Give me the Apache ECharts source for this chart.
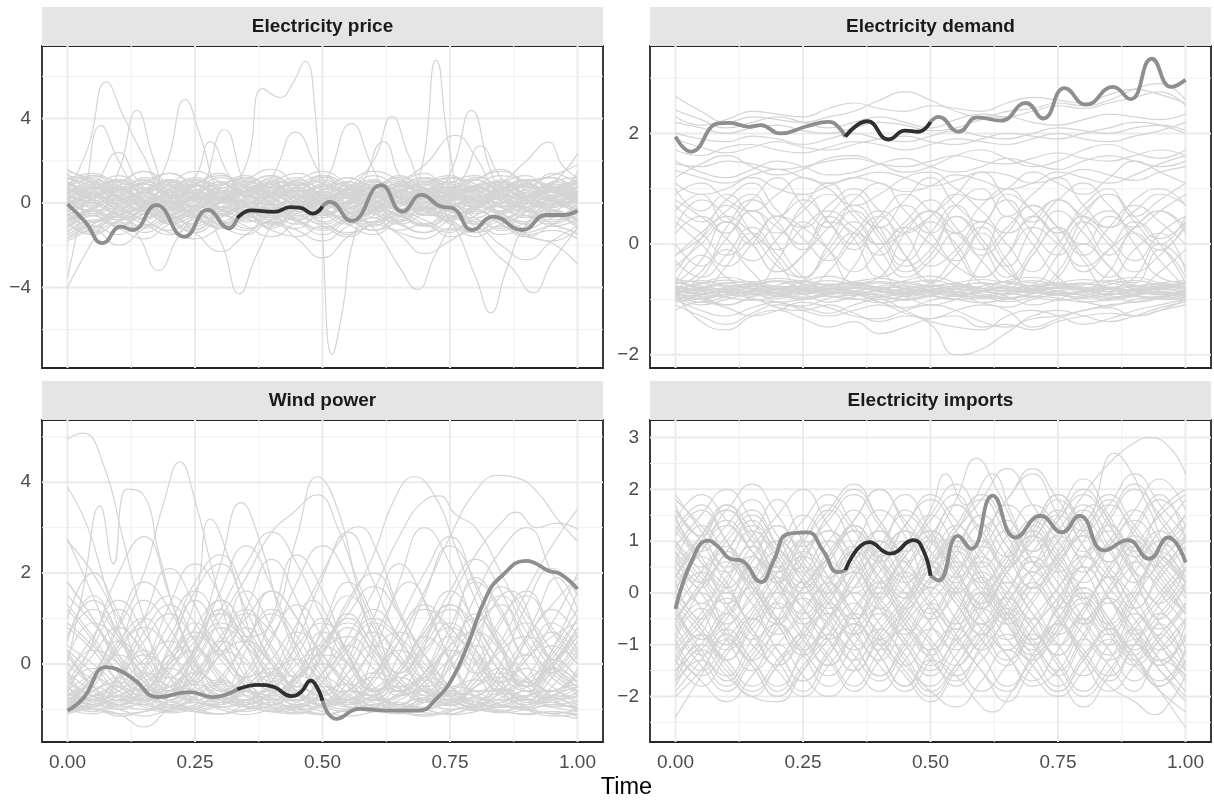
<!DOCTYPE html>
<html>
<head>
<meta charset="utf-8">
<title>Functional time series by variable</title>
<script src="https://cdn.jsdelivr.net/npm/echarts@6/dist/echarts.min.js"></script>
<style>
  html, body { margin: 0; padding: 0; background: #ffffff; }
  #chart { width: 1214px; height: 804px; }
</style>
</head>
<body>
<div id="chart"></div>
<script>
// ---------- data ----------
const panelTitles = ['Electricity price', 'Electricity demand', 'Wind power', 'Electricity imports'];
const axisTitle = 'Time';

const xTicks = [0, 0.25, 0.5, 0.75, 1];
const xMinorTicks = [0.125, 0.375, 0.625, 0.875];
const xLimits = [-0.05, 1.05];

const priceTicks = [-4, 0, 4];
const priceMinor = [-6, -2, 2, 6];
const priceLimits = [-7.82, 7.44];
const demandTicks = [-2, 0, 2];
const demandMinor = [-1, 1, 3];
const demandLimits = [-2.24, 3.58];
const windTicks = [0, 2, 4];
const windMinor = [-1, 1, 3, 5];
const windLimits = [-1.72, 5.37];
const importsTicks = [-2, -1, 0, 1, 2, 3];
const importsMinor = [-2.5, -1.5, -0.5, 0.5, 1.5, 2.5];
const importsLimits = [-2.88, 3.34];

// sampling times shared by the regular curves
const T_GRID = [0, 0.05, 0.1, 0.15, 0.2, 0.25, 0.3, 0.35, 0.4, 0.45, 0.5, 0.55, 0.6, 0.65, 0.7, 0.75, 0.8, 0.85, 0.9, 0.95, 1];

// highlighted curve of each variable: [time, value]
const priceFocus = [[0,-0.05],[0.035,-0.9],[0.069,-1.9],[0.105,-1.12],[0.128,-1.28],[0.174,-0.1],[0.229,-1.6],[0.275,-0.33],[0.317,-1.2],[0.333,-0.72],[0.36,-0.35],[0.405,-0.42],[0.437,-0.2],[0.455,-0.22],[0.481,-0.5],[0.5,-0.17],[0.514,0.05],[0.557,-0.85],[0.615,0.85],[0.657,-0.41],[0.694,0.38],[0.733,-0.17],[0.755,-0.24],[0.794,-1.28],[0.834,-0.65],[0.892,-1.28],[0.939,-0.57],[0.971,-0.57],[1,-0.36]];
const demandFocus = [[0,1.94],[0.03,1.67],[0.084,2.18],[0.106,2.19],[0.144,2.12],[0.167,2.15],[0.205,2.0],[0.258,2.13],[0.3,2.21],[0.319,2.12],[0.333,1.94],[0.376,2.22],[0.418,1.89],[0.45,2.05],[0.476,2.03],[0.5,2.21],[0.516,2.3],[0.555,2.03],[0.592,2.29],[0.638,2.23],[0.687,2.55],[0.721,2.27],[0.763,2.82],[0.805,2.52],[0.858,2.84],[0.892,2.62],[0.934,3.35],[0.972,2.84],[1,2.97]];
const windFocus = [[0,-1.03],[0.03,-0.77],[0.076,-0.07],[0.095,-0.11],[0.129,-0.33],[0.178,-0.73],[0.239,-0.62],[0.284,-0.73],[0.333,-0.56],[0.375,-0.46],[0.405,-0.51],[0.439,-0.71],[0.458,-0.62],[0.477,-0.37],[0.489,-0.51],[0.5,-0.81],[0.527,-1.21],[0.572,-0.99],[0.625,-1.03],[0.689,-1.03],[0.723,-0.77],[0.754,-0.33],[0.784,0.4],[0.822,1.5],[0.852,1.94],[0.898,2.27],[0.913,2.24],[0.943,2.05],[0.966,1.98],[1,1.65]];
const importsFocus = [[0,-0.31],[0.032,0.62],[0.064,1.01],[0.085,0.88],[0.107,0.66],[0.13,0.62],[0.168,0.21],[0.191,0.59],[0.221,1.14],[0.259,1.17],[0.289,0.82],[0.319,0.4],[0.333,0.44],[0.38,0.98],[0.421,0.76],[0.467,1.02],[0.486,0.82],[0.5,0.33],[0.516,0.24],[0.554,1.1],[0.58,0.85],[0.622,1.88],[0.667,1.07],[0.716,1.49],[0.758,1.17],[0.792,1.49],[0.841,0.82],[0.887,1.02],[0.928,0.66],[0.966,1.07],[1,0.59]];

// window of the highlighted stretch
const focusWindow = [0.333, 0.5];

// regular curves, one value per T_GRID entry
const priceBand = [
  [0.8,0.4,1.1,0.6,-0.2,0.5,1.2,0.7,0.1,0.9,0.4,-0.3,0.6,1.1,0.5,0.8,0.2,0.9,1.3,0.6,1.0],
  [0.2,-0.5,0.3,0.9,0.4,-0.4,0.1,0.8,0.3,-0.2,0.6,0.9,0.1,-0.5,0.4,0.7,-0.1,0.3,0.8,0.2,-0.3],
  [-0.4,0.3,-0.2,-0.8,0.1,0.6,-0.3,-0.6,0.4,0.2,-0.5,0.1,0.7,0.3,-0.4,0.2,0.6,-0.2,-0.6,0.3,0.5],
  [1.3,1.0,0.5,1.2,0.8,0.3,0.9,1.1,0.4,0.6,1.3,0.8,0.2,0.7,1.2,0.9,0.5,1.1,0.7,1.4,0.9],
  [-1.2,-0.6,-1.1,-0.4,-0.9,-1.4,-0.7,-0.2,-0.9,-1.2,-0.5,-0.8,-1.3,-0.6,-0.3,-1.0,-1.4,-0.7,-1.0,-0.5,-1.1],
  [0.5,1.0,0.3,-0.1,0.7,1.1,0.6,0.0,0.5,1.0,0.2,-0.2,0.4,0.9,0.6,0.1,0.7,1.0,0.3,-0.1,0.6],
  [-0.8,-0.2,0.4,-0.3,-0.9,-0.2,0.3,-0.4,-1.0,-0.3,0.2,-0.5,-0.1,0.5,-0.2,-0.8,-0.3,0.3,-0.4,-0.9,-0.2],
  [0.0,0.6,1.3,0.7,0.2,0.9,1.4,0.5,0.8,1.2,0.3,0.7,1.1,0.4,0.9,1.3,0.6,0.2,0.9,1.2,0.4],
  [1.6,0.9,0.2,0.6,1.1,0.4,-0.2,0.5,0.9,0.2,0.6,1.2,0.5,0.0,0.7,0.3,-0.2,0.6,0.9,0.3,1.5],
  [-1.6,-1.0,-0.5,-1.2,-0.7,-0.1,-0.8,-1.3,-0.6,-0.9,-1.5,-0.8,-0.3,-1.0,-1.4,-0.6,-0.9,-1.5,-1.1,-0.6,-1.2],
  [0.3,0.1,0.8,1.5,0.9,0.2,0.5,1.1,1.6,0.8,0.1,0.6,1.3,0.7,0.0,0.5,1.2,0.8,0.3,0.9,0.7],
  [-0.3,-0.9,-0.4,0.2,-0.5,-1.1,-0.4,0.1,-0.3,-0.8,-0.2,0.3,-0.4,-1.0,-0.5,-0.1,-0.7,-1.2,-0.4,0.0,-0.6],
  [0.9,0.5,-0.1,0.4,1.0,0.6,0.9,0.2,-0.3,0.4,0.8,0.3,-0.2,0.5,1.0,0.4,0.8,0.1,-0.2,0.5,0.2],
  [-0.6,0.2,0.7,0.1,-0.4,0.3,0.9,0.4,-0.1,0.5,1.0,0.2,-0.4,0.1,0.6,0.0,-0.5,0.2,0.8,0.3,-0.3],
  [1.1,1.4,0.8,0.3,0.9,1.5,1.0,0.5,1.2,0.8,0.4,1.0,1.5,1.1,0.6,1.2,0.9,0.4,1.0,1.3,1.8],
  [-1.0,-1.5,-0.8,-0.3,-0.9,-1.3,-0.6,-1.1,-1.6,-0.9,-0.4,-1.0,-1.5,-0.7,-0.2,-0.8,-1.3,-0.9,-1.5,-1.8,-1.2],
  [0.4,-0.2,-0.7,0.0,0.6,0.1,-0.5,0.2,0.7,0.0,-0.6,-0.1,0.5,0.0,-0.4,0.3,0.8,0.2,-0.3,0.4,0.1],
  [0.1,0.8,0.3,-0.4,0.2,0.8,0.2,-0.5,0.1,0.6,0.0,0.7,0.2,-0.3,0.4,-0.2,0.3,0.9,0.4,-0.2,0.3],
  [-1.4,-0.8,-1.2,-1.7,-1.0,-0.6,-1.1,-1.5,-0.9,-1.3,-1.8,-1.1,-0.7,-1.3,-1.0,-1.6,-1.2,-0.8,-1.4,-1.1,-1.5],
  [0.6,0.2,0.9,0.4,-0.3,0.3,0.0,0.6,1.1,0.5,-0.1,0.4,0.9,0.3,0.8,1.2,0.5,0.0,0.6,0.2,0.8],
  [1.4,0.7,1.0,1.5,0.6,0.2,0.8,1.3,0.7,1.1,1.5,0.9,0.3,0.9,1.4,0.7,1.1,1.6,0.8,0.5,1.1],
  [-0.2,0.4,-0.1,-0.7,-0.2,0.3,-0.4,0.1,0.5,-0.2,-0.7,0.0,0.4,-0.3,0.2,-0.6,-0.1,0.4,-0.2,-0.7,0.0],
  [0.7,1.2,0.6,0.9,1.4,0.7,0.3,1.0,0.5,0.0,0.6,1.2,0.8,1.3,0.6,0.2,0.8,0.4,1.1,0.8,0.3],
  [-0.9,-0.4,-1.0,-0.5,0.0,-0.6,-1.1,-0.5,-0.2,-0.8,-0.3,-0.9,-0.4,0.1,-0.6,-0.3,-1.0,-0.5,0.0,-0.4,-0.8],
  [0.2,0.7,0.1,0.5,-0.1,0.4,1.0,0.3,0.7,0.2,0.8,0.4,-0.2,0.3,0.0,0.6,0.2,0.7,0.1,0.6,0.2],
  [-1.8,-1.2,-0.6,-1.0,-1.5,-0.9,-0.5,-1.2,-0.8,-0.3,-0.9,-1.4,-1.0,-0.6,-1.1,-0.7,-0.4,-1.0,-1.6,-1.0,-0.5],
  [1.0,0.4,0.7,0.1,0.5,0.9,0.2,0.6,1.0,0.3,0.9,0.5,0.1,0.6,0.2,0.9,1.3,0.7,0.4,1.0,1.2],
  [-0.5,-1.1,-0.6,-0.1,-0.7,-0.3,0.2,-0.4,-0.9,-0.5,0.0,-0.6,-1.1,-0.4,-0.8,-1.3,-0.6,-0.1,-0.6,-1.0,-0.4],
  [0.5,0.0,0.6,1.1,0.4,0.8,0.3,-0.2,0.4,0.9,0.4,0.0,0.7,1.0,0.3,0.6,0.0,0.5,1.1,0.6,0.0],
  [-0.1,0.5,1.1,0.5,0.9,0.2,-0.3,0.3,0.8,0.3,-0.1,0.5,0.2,0.8,0.3,-0.2,0.4,0.8,0.2,0.7,1.0],
  [1.2,0.6,0.0,0.5,0.0,-0.5,0.1,0.7,0.2,-0.3,0.3,0.8,0.4,-0.1,0.5,0.1,0.7,0.3,-0.2,0.2,0.8],
  [-0.7,-1.3,-0.9,-1.4,-0.8,-0.4,-1.0,-0.6,-1.2,-0.7,-1.1,-1.6,-0.9,-0.5,-1.0,-1.4,-0.8,-1.3,-0.9,-0.4,-0.9],
  [0.5,0.9,0.2,-0.3,0.4,0.1,0.8,1.2,0.4,0.6,-0.1,0.3,1.0,0.5,-0.2,0.1,0.7,0.4,0.9,0.3,0.6],
  [-0.2,-0.6,0.1,0.6,1.0,0.3,-0.4,-0.1,0.5,0.2,0.9,0.4,-0.3,-0.8,0.0,0.5,0.1,-0.5,0.2,0.7,1.1],
  [1.0,0.5,0.8,0.1,-0.4,0.2,0.5,-0.1,0.3,0.8,1.3,0.6,0.9,0.2,0.5,1.0,0.4,-0.2,0.3,0.1,0.6],
  [-1.1,-0.5,-0.8,-0.2,0.3,-0.3,-0.9,-0.4,-0.7,-0.1,-0.5,-1.0,-0.6,0.0,-0.4,-0.8,-0.2,-0.6,-1.2,-0.7,-0.3],
  [0.3,0.0,-0.5,-0.1,0.7,0.4,0.1,0.6,0.0,-0.6,-0.2,0.5,0.2,0.8,0.4,-0.3,-0.7,0.0,0.4,-0.1,0.3],
  [0.9,1.3,1.0,0.6,1.1,0.7,0.2,0.6,1.0,1.4,0.9,0.5,0.8,1.2,0.7,0.3,0.8,1.3,1.0,0.6,0.9],
  [-0.4,0.0,-0.6,-1.1,-0.6,-0.2,0.3,-0.2,-0.7,-0.3,0.2,-0.4,-0.9,-0.5,0.1,-0.4,-0.9,-0.4,0.1,-0.3,-0.7],
  [0.0,0.3,0.7,0.2,0.5,1.0,0.4,0.0,0.4,-0.1,0.3,0.8,0.3,0.6,0.1,-0.4,0.2,0.6,0.3,0.9,0.4],
  [0.6,0.1,-0.3,0.3,0.0,-0.6,-0.2,0.4,0.1,0.6,0.2,-0.4,0.0,0.5,0.9,0.4,0.0,0.6,0.2,-0.2,0.2],
  [-0.9,-1.4,-0.9,-0.5,-1.0,-0.6,-0.2,-0.7,-1.1,-0.6,-1.0,-0.5,-0.1,-0.6,-1.1,-0.7,-0.3,-0.8,-0.4,-1.0,-1.4],
  [1.2,0.8,0.4,0.9,0.5,0.9,1.3,0.8,0.3,0.7,0.2,0.6,1.1,0.6,1.0,0.5,0.1,0.6,1.1,0.7,0.4],
  [-0.3,0.2,0.6,0.0,-0.5,-0.1,-0.6,-0.1,0.4,0.0,0.5,0.0,-0.5,0.1,-0.3,0.3,0.7,0.1,-0.4,0.2,-0.2],
  [0.4,0.8,0.4,1.0,0.6,0.1,0.5,0.9,0.5,1.1,0.6,0.2,0.7,0.3,-0.2,0.4,0.8,0.3,0.7,1.2,0.5],
  [-0.6,-0.1,-0.5,-0.2,-0.8,-1.2,-0.6,-0.2,-0.6,-1.0,-0.4,0.0,-0.5,-0.9,-0.3,-0.7,-0.2,0.2,-0.3,-0.8,-0.5],
  [0.1,-0.4,0.2,0.7,0.3,-0.2,0.2,0.6,0.0,-0.5,0.1,-0.3,0.4,0.9,0.4,-0.1,0.3,-0.2,-0.7,-0.1,0.4],
  [1.5,1.1,0.6,1.0,1.4,0.9,0.5,0.9,1.3,0.8,1.2,0.7,0.3,0.8,1.2,0.7,1.1,1.5,1.0,0.6,1.3],
  [-1.3,-0.9,-0.4,-0.8,-1.3,-0.8,-1.2,-0.7,-0.3,-0.8,-1.2,-0.8,-1.3,-0.9,-0.5,-0.9,-1.4,-1.0,-0.6,-1.1,-0.8],
  [0.7,0.3,0.6,0.1,0.4,0.8,0.3,-0.2,0.2,0.7,0.2,0.6,0.1,-0.3,0.3,0.7,0.2,0.5,0.0,0.4,0.7],
  [-0.1,0.4,0.0,0.5,0.9,0.5,0.0,0.4,-0.1,0.3,0.8,0.3,0.7,0.2,0.6,1.0,0.5,0.0,0.5,0.1,-0.3],
  [0.2,-0.3,-0.8,-0.3,0.1,-0.4,0.1,0.5,0.0,-0.4,0.0,0.4,-0.1,-0.6,-0.2,0.3,-0.2,-0.7,-0.2,0.3,0.0],
  [-0.5,-0.9,-0.4,0.1,-0.3,0.2,-0.2,-0.7,-0.3,0.1,-0.4,-0.8,-0.3,0.2,-0.2,-0.6,-1.0,-0.5,0.0,-0.5,-1.0],
  [0.8,1.1,0.5,0.1,0.6,1.1,0.7,1.2,0.7,0.2,0.6,1.0,0.4,0.8,1.2,0.6,0.2,0.7,1.1,0.6,0.2],
  [-0.7,-0.3,0.2,-0.2,-0.6,-1.0,-0.5,-0.9,-0.4,0.1,-0.3,-0.7,-0.2,-0.6,-1.0,-0.5,-0.1,-0.5,-0.9,-0.4,0.1],
  [0.3,0.7,1.1,0.6,0.2,0.5,0.1,0.5,0.9,0.4,0.0,0.4,0.8,0.3,0.7,0.2,0.6,1.0,0.4,0.8,0.5],
  [-1.5,-1.1,-1.5,-1.0,-1.4,-1.7,-1.2,-0.8,-1.3,-1.6,-1.1,-1.5,-1.0,-1.4,-1.7,-1.2,-1.6,-1.1,-1.5,-1.3,-1.7]
];

// curves with sharp excursions: [time, value]
const priceSpikes = [
  [[0,0.6],[0.04,2.6],[0.076,5.74],[0.11,4.1],[0.15,2.2],[0.2,0.3],[0.25,0.9],[0.3,0.2],[0.35,0.8],[0.4,1.3],[0.45,0.5],[0.5,-0.2],[0.55,0.4],[0.6,1.0],[0.65,0.3],[0.7,-0.3],[0.75,0.5],[0.8,1.1],[0.85,0.4],[0.9,0.8],[0.95,0.1],[1,0.5]],
  [[0,-3.55],[0.033,0.2],[0.066,3.68],[0.1,2.0],[0.14,0.4],[0.18,-0.6],[0.22,0.2],[0.27,1.0],[0.32,0.2],[0.37,-0.5],[0.42,0.3],[0.47,0.9],[0.52,0.1],[0.57,-0.6],[0.62,0.0],[0.67,0.7],[0.72,0.1],[0.77,-0.5],[0.82,0.2],[0.87,0.8],[0.93,0.2],[1,-0.4]],
  [[0,-4.0],[0.04,-2.2],[0.08,-0.7],[0.12,0.2],[0.16,-0.5],[0.2,0.4],[0.25,-0.3],[0.3,0.6],[0.35,0.0],[0.4,-0.6],[0.45,0.2],[0.5,0.7],[0.55,-0.1],[0.6,-0.7],[0.65,0.1],[0.7,0.6],[0.75,-0.2],[0.8,0.4],[0.85,-0.4],[0.9,0.3],[0.95,0.9],[1,0.2]],
  [[0,0.3],[0.05,-0.5],[0.1,1.5],[0.136,4.39],[0.17,2.0],[0.21,-0.3],[0.26,0.5],[0.31,-0.4],[0.36,0.4],[0.41,1.0],[0.46,0.2],[0.51,-0.5],[0.56,0.3],[0.61,0.8],[0.66,0.0],[0.71,-0.6],[0.76,0.2],[0.81,0.9],[0.86,0.2],[0.91,-0.4],[0.96,0.3],[1,0.6]],
  [[0,-0.2],[0.05,0.5],[0.1,-0.3],[0.15,0.6],[0.19,1.6],[0.231,4.9],[0.26,3.2],[0.3,0.4],[0.35,-0.4],[0.4,0.5],[0.45,1.0],[0.5,0.2],[0.55,-0.5],[0.6,0.2],[0.65,0.9],[0.7,0.3],[0.75,-0.4],[0.8,0.3],[0.85,1.0],[0.9,0.4],[0.95,-0.2],[1,0.3]],
  [[0,1.0],[0.05,0.4],[0.1,-0.2],[0.15,0.5],[0.2,1.1],[0.25,0.6],[0.307,3.47],[0.35,0.8],[0.4,-0.5],[0.45,0.1],[0.5,0.8],[0.55,0.3],[0.6,-0.4],[0.65,0.3],[0.7,1.0],[0.75,0.5],[0.8,-0.2],[0.85,0.5],[0.9,0.9],[0.95,0.2],[1,-0.5]],
  [[0,0.2],[0.05,-0.4],[0.1,0.3],[0.15,0.9],[0.2,0.2],[0.25,-0.5],[0.3,0.1],[0.35,1.8],[0.383,5.42],[0.417,5.0],[0.44,5.6],[0.466,6.73],[0.485,4.5],[0.5,-1.5],[0.519,-7.18],[0.54,-5.0],[0.56,-1.8],[0.6,0.1],[0.65,-0.6],[0.7,0.3],[0.75,0.9],[0.8,0.2],[0.85,-0.5],[0.9,0.3],[0.95,0.8],[1,0.1]],
  [[0,-0.6],[0.05,0.2],[0.1,0.8],[0.15,0.1],[0.2,-0.6],[0.25,0.1],[0.3,0.7],[0.35,0.0],[0.4,1.2],[0.447,3.36],[0.49,1.6],[0.53,0.0],[0.58,-0.6],[0.63,0.2],[0.68,0.8],[0.73,0.1],[0.78,-0.5],[0.83,0.3],[0.88,0.9],[0.93,0.3],[1,-0.3]],
  [[0,0.9],[0.05,1.3],[0.1,0.6],[0.15,0.0],[0.2,0.6],[0.25,1.2],[0.3,0.5],[0.35,-0.1],[0.4,0.6],[0.45,0.2],[0.5,0.8],[0.557,3.76],[0.6,1.6],[0.64,0.2],[0.69,0.9],[0.74,0.4],[0.79,-0.3],[0.84,0.5],[0.89,1.0],[0.94,0.5],[1,1.0]],
  [[0,-0.3],[0.05,-0.9],[0.1,-0.2],[0.15,0.5],[0.2,-0.1],[0.25,-0.7],[0.3,0.0],[0.35,0.6],[0.4,-0.1],[0.45,-0.6],[0.5,0.1],[0.55,0.7],[0.6,2.0],[0.636,4.1],[0.67,2.2],[0.71,0.4],[0.76,1.2],[0.81,0.5],[0.86,-0.2],[0.91,0.4],[0.96,1.0],[1,0.4]],
  [[0,0.5],[0.05,0.0],[0.1,0.6],[0.15,1.1],[0.2,0.4],[0.25,-0.2],[0.3,0.5],[0.35,1.0],[0.4,0.3],[0.45,-0.3],[0.5,0.4],[0.55,1.0],[0.6,0.4],[0.65,0.0],[0.69,1.2],[0.723,6.77],[0.75,2.4],[0.78,0.3],[0.83,1.0],[0.88,0.4],[0.93,-0.2],[1,0.6]],
  [[0,-0.9],[0.05,-0.3],[0.1,0.4],[0.15,-0.2],[0.2,-0.8],[0.25,-0.1],[0.3,0.5],[0.35,-0.2],[0.4,-0.8],[0.45,-0.2],[0.5,0.4],[0.55,-0.3],[0.6,0.3],[0.65,0.9],[0.7,0.3],[0.75,1.4],[0.792,4.39],[0.83,1.5],[0.87,-0.4],[0.92,0.3],[0.96,1.0],[1,0.2]],
  [[0,0.1],[0.05,0.7],[0.1,0.2],[0.15,-0.4],[0.2,0.3],[0.25,0.9],[0.3,0.3],[0.35,-0.3],[0.4,0.4],[0.45,0.9],[0.5,0.3],[0.55,-0.2],[0.6,0.5],[0.65,1.0],[0.7,1.8],[0.761,3.2],[0.8,2.2],[0.84,0.6],[0.89,-0.1],[0.94,0.5],[1,0.9]],
  [[0,0.0],[0.05,0.6],[0.1,1.0],[0.15,0.4],[0.2,-0.2],[0.25,0.4],[0.3,1.0],[0.35,0.5],[0.4,-0.1],[0.45,0.5],[0.5,1.1],[0.55,0.5],[0.6,0.0],[0.65,0.6],[0.7,1.1],[0.75,0.6],[0.8,0.1],[0.85,0.9],[0.9,2.0],[0.943,2.88],[0.97,1.8],[1,1.2]],
  [[0,-0.8],[0.05,-0.2],[0.1,0.3],[0.15,-0.3],[0.2,-0.9],[0.25,-0.4],[0.3,0.2],[0.35,-0.5],[0.4,-1.0],[0.45,-0.3],[0.5,0.3],[0.55,-0.4],[0.6,-0.9],[0.65,-0.2],[0.7,0.2],[0.75,-0.8],[0.8,-3.5],[0.83,-5.2],[0.86,-3.2],[0.9,-1.0],[0.95,-0.3],[1,-0.9]],
  [[0,0.4],[0.05,0.9],[0.1,0.3],[0.15,-0.4],[0.2,0.2],[0.25,0.8],[0.3,0.2],[0.35,-0.5],[0.4,0.0],[0.45,0.6],[0.5,0.0],[0.55,-0.6],[0.6,-1.2],[0.65,-3.0],[0.686,-4.1],[0.72,-2.5],[0.76,-0.8],[0.8,0.1],[0.85,-0.4],[0.9,0.3],[0.95,-0.2],[1,0.4]],
  [[0,-0.5],[0.05,-1.2],[0.1,-0.6],[0.14,-1.6],[0.178,-3.2],[0.22,-1.5],[0.26,-0.6],[0.3,-1.8],[0.337,-4.3],[0.37,-2.5],[0.41,-0.8],[0.45,-0.2],[0.5,-0.9],[0.55,-0.3],[0.6,0.3],[0.65,-0.4],[0.7,-1.0],[0.75,-0.3],[0.8,0.2],[0.85,-0.5],[0.9,-1.0],[0.95,-0.4],[1,-0.8]],
  [[0,0.7],[0.05,0.2],[0.1,-0.4],[0.15,0.3],[0.2,0.8],[0.25,0.1],[0.3,-0.5],[0.35,0.2],[0.4,0.6],[0.45,0.0],[0.5,-0.6],[0.55,0.1],[0.6,0.7],[0.65,0.2],[0.7,-0.5],[0.75,0.0],[0.8,-1.2],[0.84,-2.4],[0.871,-3.06],[0.913,-4.25],[0.95,-2.8],[1,-1.2]],
  [[0,-0.2],[0.05,0.4],[0.1,-0.1],[0.15,-0.7],[0.2,0.0],[0.25,0.5],[0.3,-0.2],[0.35,0.3],[0.4,0.9],[0.45,0.2],[0.5,-0.3],[0.55,0.4],[0.6,1.0],[0.65,0.5],[0.7,-0.1],[0.75,0.6],[0.8,1.1],[0.85,0.5],[0.9,0.2],[0.95,0.9],[1,2.33]],
  [[0,-1.2],[0.05,-0.6],[0.1,-1.1],[0.15,-0.5],[0.2,0.0],[0.25,-0.7],[0.3,-1.2],[0.35,-0.6],[0.4,-0.1],[0.45,-0.8],[0.5,-1.3],[0.55,-0.7],[0.6,-0.2],[0.65,-0.9],[0.7,-1.4],[0.75,-0.8],[0.8,-0.3],[0.85,-1.0],[0.9,-1.6],[0.95,-1.9],[1,-2.9]],
  [[0,0.2],[0.05,0.8],[0.1,2.4],[0.14,1.0],[0.2,0.0],[0.25,1.2],[0.28,2.9],[0.32,1.2],[0.37,0.2],[0.42,1.0],[0.47,0.4],[0.52,-0.2],[0.57,0.6],[0.62,2.9],[0.66,1.0],[0.72,0.3],[0.77,1.0],[0.81,2.7],[0.85,1.2],[0.9,0.2],[0.95,0.7],[1,-0.2]],
  [[0,-1.7],[0.05,-1.3],[0.1,-2.0],[0.15,-1.2],[0.2,-0.6],[0.25,-1.4],[0.3,-2.3],[0.35,-1.5],[0.4,-0.9],[0.45,-1.7],[0.5,-2.6],[0.55,-1.6],[0.6,-0.9],[0.65,-1.5],[0.7,-2.4],[0.75,-1.8],[0.8,-1.2],[0.85,-2.0],[0.9,-2.7],[0.95,-1.8],[1,-1.1]]
];

const demandBand = [
  [-0.85,-0.9,-0.8,-0.75,-0.85,-0.9,-0.82,-0.78,-0.85,-0.92,-0.84,-0.8,-0.86,-0.9,-0.82,-0.78,-0.84,-0.9,-0.86,-0.8,-0.85],
  [-0.75,-0.82,-0.7,-0.68,-0.78,-0.84,-0.74,-0.7,-0.78,-0.85,-0.76,-0.72,-0.8,-0.84,-0.74,-0.7,-0.78,-0.82,-0.76,-0.72,-0.74],
  [-0.95,-1.0,-0.9,-0.86,-0.94,-0.98,-0.9,-0.88,-0.94,-1.0,-0.92,-0.88,-0.95,-0.99,-0.9,-0.86,-0.93,-0.98,-0.92,-0.88,-0.95],
  [-0.9,-0.78,-0.7,-0.82,-0.9,-0.8,-0.72,-0.85,-0.92,-0.8,-0.74,-0.86,-0.93,-0.82,-0.75,-0.86,-0.92,-0.8,-0.74,-0.85,-0.9],
  [-0.68,-0.8,-0.88,-0.76,-0.68,-0.8,-0.88,-0.77,-0.7,-0.82,-0.9,-0.78,-0.7,-0.82,-0.88,-0.76,-0.7,-0.82,-0.9,-0.78,-0.72],
  [-1.0,-0.92,-0.84,-0.9,-0.98,-0.9,-0.82,-0.9,-1.0,-0.94,-0.85,-0.9,-0.98,-0.92,-0.84,-0.9,-0.98,-0.92,-0.85,-0.9,-0.97],
  [-0.8,-0.72,-0.65,-0.74,-0.82,-0.75,-0.66,-0.74,-0.82,-0.72,-0.65,-0.75,-0.83,-0.74,-0.66,-0.74,-0.82,-0.73,-0.66,-0.74,-0.8],
  [-0.88,-0.96,-0.86,-0.8,-0.88,-0.96,-0.88,-0.8,-0.86,-0.95,-0.88,-0.82,-0.9,-0.97,-0.88,-0.8,-0.88,-0.96,-0.9,-0.82,-0.88],
  [-0.72,-0.66,-0.76,-0.84,-0.74,-0.66,-0.76,-0.84,-0.76,-0.68,-0.78,-0.86,-0.76,-0.68,-0.76,-0.84,-0.74,-0.66,-0.74,-0.82,-0.7],
  [-0.92,-1.05,-0.95,-0.85,-0.9,-1.0,-0.92,-0.84,-0.92,-1.02,-0.94,-0.86,-0.94,-1.04,-0.96,-0.86,-0.92,-1.02,-0.94,-0.86,-0.92],
  [-0.95,-1.1,-1.0,-0.9,-1.05,-1.12,-0.98,-0.92,-1.05,-1.15,-1.02,-0.94,-1.06,-1.14,-1.0,-0.92,-1.04,-1.12,-1.0,-0.95,-1.0],
  [-0.82,-0.7,-0.6,-0.7,-0.8,-0.68,-0.58,-0.7,-0.8,-0.66,-0.58,-0.7,-0.8,-0.66,-0.6,-0.72,-0.8,-0.68,-0.6,-0.7,-0.78],
  [-0.9,-1.4,-1.55,-1.3,-1.2,-1.35,-1.5,-1.4,-1.62,-1.5,-1.35,-1.3,-1.5,-1.45,-1.55,-1.4,-1.3,-1.25,-1.3,-1.2,-1.0],
  [-1.0,-1.2,-1.3,-1.15,-1.05,-1.2,-1.3,-1.2,-1.1,-1.25,-1.4,-1.5,-1.55,-1.3,-1.2,-1.3,-1.45,-1.35,-1.2,-1.1,-1.0],
  [-0.9,-1.0,-1.1,-1.0,-1.15,-1.2,-1.1,-1.25,-1.4,-1.3,-1.45,-2.0,-1.9,-1.6,-1.35,-1.3,-1.2,-1.1,-1.05,-0.95,-0.9],
  [-1.1,-1.3,-1.45,-1.25,-1.1,-1.15,-1.25,-1.1,-1.0,-1.2,-1.35,-1.2,-1.1,-1.2,-1.5,-1.35,-1.2,-1.15,-1.3,-1.2,-1.1],
  [0.0,-0.4,0.3,0.8,0.4,-0.1,0.5,0.9,0.3,-0.3,0.2,0.7,0.1,-0.4,0.3,0.8,0.4,-0.2,0.3,0.6,0.2],
  [-0.5,0.1,0.7,0.2,-0.4,-0.6,0.0,0.6,0.1,-0.5,-0.2,0.5,0.0,-0.6,-0.1,0.6,0.2,-0.4,-0.7,-0.1,-0.6],
  [0.6,0.9,0.4,0.8,1.2,0.7,0.3,0.8,1.1,0.6,0.2,0.7,1.0,0.5,0.9,1.2,0.7,0.3,0.8,1.0,0.7],
  [-0.3,-0.6,-0.2,0.3,-0.2,-0.6,-0.1,0.4,-0.1,-0.6,-0.3,0.2,-0.3,-0.7,-0.2,0.3,-0.2,-0.6,-0.1,0.2,-0.5],
  [1.0,0.6,0.9,0.5,0.2,0.7,1.1,0.6,0.3,0.8,1.2,0.7,0.4,0.9,0.6,0.2,0.7,1.0,0.5,0.8,1.1],
  [0.3,0.8,0.5,0.0,0.4,0.9,0.4,-0.1,0.4,0.7,0.2,-0.3,0.3,0.8,0.2,-0.2,0.5,0.9,0.4,0.0,0.5],
  [-0.7,-0.3,0.4,0.0,-0.5,-0.2,0.5,0.1,-0.6,-0.3,0.4,0.0,-0.6,-0.2,0.5,0.1,-0.5,-0.1,0.4,0.0,-0.7],
  [0.8,0.5,0.2,0.6,0.3,0.0,0.4,0.2,-0.2,0.3,0.6,0.2,-0.1,0.3,0.7,0.3,0.0,0.5,0.2,-0.1,0.4],
  [-0.2,0.2,0.6,0.9,0.5,0.8,0.4,0.0,0.5,0.9,0.6,0.2,0.7,1.0,0.6,0.2,0.6,0.9,0.5,0.1,0.4],
  [0.4,0.0,-0.4,0.0,0.5,0.1,-0.3,0.2,0.6,0.2,-0.4,-0.1,0.4,0.0,-0.5,0.0,0.5,0.1,-0.3,0.2,0.5],
  [1.45,1.4,1.5,1.45,1.35,1.4,1.5,1.55,1.45,1.4,1.5,1.6,1.5,1.45,1.55,1.65,1.55,1.5,1.6,1.7,1.6],
  [1.33,1.2,1.1,1.25,1.35,1.2,1.1,1.2,1.3,1.2,1.05,1.15,1.3,1.25,1.1,1.2,1.35,1.25,1.15,1.3,1.4],
  [2.0,1.9,1.85,1.95,1.9,1.8,1.9,2.0,1.9,1.85,1.95,2.05,1.95,1.9,2.0,2.1,2.05,2.0,2.1,2.15,2.05],
  [2.67,2.4,2.2,2.3,2.25,2.2,2.3,2.4,2.6,2.75,2.6,2.4,2.3,2.4,2.45,2.55,2.5,2.6,2.8,2.9,2.6],
  [2.42,2.25,2.1,2.2,2.3,2.2,2.1,2.2,2.3,2.2,2.1,2.25,2.35,2.3,2.4,2.5,2.45,2.55,2.65,2.75,2.5],
  [1.7,1.6,1.75,1.8,1.7,1.65,1.75,1.85,1.8,1.7,1.8,1.9,1.85,1.8,1.9,2.0,1.9,1.85,1.95,2.05,2.2],
  [1.1,0.9,1.0,1.2,1.0,0.9,1.05,1.2,1.1,0.95,1.05,1.25,1.15,1.0,1.1,1.3,1.2,1.1,1.25,1.45,1.6],
  [2.2,2.1,2.0,2.1,2.15,2.05,2.0,2.1,2.2,2.15,2.05,2.1,2.25,2.3,2.2,2.15,2.25,2.35,2.3,2.25,2.35],
  [-0.78,-0.86,-0.92,-0.84,-0.76,-0.82,-0.9,-0.86,-0.78,-0.8,-0.88,-0.94,-0.86,-0.78,-0.82,-0.9,-0.86,-0.8,-0.84,-0.9,-0.86],
  [-0.86,-0.8,-0.74,-0.8,-0.88,-0.84,-0.76,-0.72,-0.8,-0.88,-0.82,-0.76,-0.8,-0.86,-0.8,-0.74,-0.8,-0.86,-0.82,-0.76,-0.8],
  [-0.98,-0.92,-0.96,-1.02,-0.94,-0.88,-0.94,-1.0,-0.96,-0.9,-0.94,-1.0,-0.96,-0.9,-0.95,-1.02,-0.96,-0.9,-0.94,-1.0,-0.96],
  [-0.7,-0.76,-0.82,-0.74,-0.66,-0.72,-0.8,-0.74,-0.68,-0.74,-0.82,-0.76,-0.7,-0.76,-0.84,-0.78,-0.72,-0.78,-0.84,-0.76,-0.7],
  [-0.9,-0.84,-0.88,-0.94,-0.86,-0.8,-0.86,-0.93,-0.88,-0.82,-0.86,-0.92,-0.86,-0.8,-0.86,-0.92,-0.88,-0.82,-0.86,-0.92,-0.88],
  [-0.82,-0.9,-0.84,-0.76,-0.82,-0.9,-0.84,-0.78,-0.84,-0.9,-0.82,-0.76,-0.84,-0.9,-0.84,-0.78,-0.84,-0.9,-0.84,-0.78,-0.82],
  [-1.05,-0.98,-0.92,-0.98,-1.05,-1.0,-0.94,-0.98,-1.06,-1.0,-0.94,-1.0,-1.06,-1.0,-0.94,-0.98,-1.05,-1.0,-0.94,-0.98,-1.02],
  [-0.64,-0.7,-0.76,-0.7,-0.62,-0.68,-0.74,-0.68,-0.62,-0.7,-0.76,-0.7,-0.64,-0.7,-0.76,-0.7,-0.64,-0.7,-0.76,-0.7,-0.66],
  [-0.88,-0.78,-0.84,-0.9,-0.82,-0.76,-0.84,-0.9,-0.82,-0.76,-0.84,-0.92,-0.84,-0.78,-0.86,-0.92,-0.84,-0.78,-0.86,-0.9,-0.84],
  [-0.76,-0.84,-0.78,-0.72,-0.8,-0.86,-0.8,-0.74,-0.8,-0.86,-0.78,-0.72,-0.8,-0.86,-0.8,-0.74,-0.8,-0.86,-0.8,-0.74,-0.78],
  [-0.94,-0.86,-0.8,-0.88,-0.94,-0.86,-0.8,-0.88,-0.96,-0.88,-0.82,-0.9,-0.96,-0.88,-0.82,-0.9,-0.96,-0.88,-0.82,-0.88,-0.94],
  [-0.8,-0.95,-1.1,-0.95,-0.8,-0.9,-1.05,-0.95,-0.85,-0.95,-1.1,-1.0,-0.85,-0.95,-1.1,-1.0,-0.85,-0.92,-1.05,-0.98,-0.88],
  [-0.8,-0.5,0.1,0.6,0.0,-0.6,-0.8,-0.4,0.3,-0.2,-0.7,-0.8,-0.3,0.5,0.0,-0.6,-0.8,-0.5,0.2,-0.3,-0.8],
  [-0.7,-0.2,-0.6,-0.8,-0.3,0.4,-0.1,-0.7,-0.6,0.2,0.6,-0.1,-0.7,-0.8,-0.2,0.3,-0.3,-0.8,-0.6,0.0,-0.4],
  [-0.6,-0.8,-0.4,0.2,-0.3,-0.8,-0.5,0.1,0.5,-0.2,-0.7,-0.4,0.2,-0.4,-0.8,-0.5,0.3,0.6,0.0,-0.6,-0.7],
  [-0.9,-0.6,-0.1,-0.5,-0.9,-0.7,-0.2,0.2,-0.4,-0.8,-0.7,-0.2,0.3,-0.3,-0.8,-0.6,0.0,-0.4,-0.8,-0.5,-0.1],
  [-0.4,0.0,0.4,0.0,-0.5,-0.2,0.3,0.7,0.2,-0.4,-0.1,0.5,0.1,-0.5,-0.7,-0.2,0.4,0.0,-0.5,-0.2,0.3],
  [0.2,0.5,0.1,-0.3,0.1,0.6,0.9,0.5,0.0,0.4,0.8,0.3,-0.2,0.2,0.7,0.3,-0.2,0.3,0.7,0.4,0.0],
  [0.7,0.4,0.8,1.1,0.6,0.3,0.7,1.0,0.6,0.2,0.5,0.9,1.3,0.8,0.4,0.8,1.1,0.7,0.3,0.6,0.9],
  [1.5,1.3,1.2,1.35,1.5,1.4,1.25,1.3,1.45,1.55,1.4,1.3,1.4,1.55,1.45,1.35,1.5,1.6,1.5,1.4,1.5],
  [1.2,1.45,1.6,1.4,1.25,1.35,1.55,1.6,1.45,1.3,1.4,1.6,1.7,1.55,1.4,1.5,1.7,1.8,1.65,1.55,1.7],
  [0.9,1.1,0.8,0.6,0.9,1.2,1.0,0.7,0.9,1.2,1.3,1.0,0.8,1.0,1.3,1.1,0.9,1.2,1.5,1.3,1.1],
  [-0.2,0.1,0.5,0.2,-0.1,0.3,0.6,0.3,0.0,0.2,0.5,0.9,0.6,0.2,0.5,0.8,0.5,0.3,0.6,0.9,0.7],
  [2.3,2.15,2.25,2.4,2.35,2.3,2.45,2.55,2.45,2.4,2.5,2.45,2.4,2.55,2.65,2.6,2.55,2.7,2.8,2.7,2.55],
  [1.9,1.75,1.65,1.75,1.85,1.75,1.7,1.8,1.9,1.95,1.85,1.8,1.9,2.0,1.95,1.9,2.0,2.1,2.2,2.15,2.0],
  [-1.2,-1.05,-1.15,-1.3,-1.2,-1.05,-1.15,-1.3,-1.35,-1.2,-1.1,-1.2,-1.4,-1.5,-1.3,-1.2,-1.3,-1.4,-1.3,-1.15,-1.05],
  [0.5,0.2,-0.2,0.1,0.5,0.3,-0.1,-0.5,-0.1,0.3,0.0,-0.4,-0.6,-0.2,0.3,0.0,-0.4,-0.1,0.3,0.6,0.3]
];
const demandSpikes = [];

const windBand = [
  [-0.9,-0.8,-0.95,-0.85,-0.7,-0.85,-0.95,-0.8,-0.7,-0.85,-0.95,-0.85,-0.75,-0.9,-1.0,-0.85,-0.75,-0.9,-1.0,-0.9,-0.95],
  [-1.05,-1.0,-1.1,-1.05,-0.95,-1.05,-1.1,-1.0,-0.95,-1.05,-1.12,-1.0,-0.95,-1.08,-1.12,-1.02,-0.96,-1.05,-1.1,-1.05,-1.1],
  [-0.7,-0.5,-0.75,-0.9,-0.6,-0.45,-0.7,-0.9,-0.65,-0.5,-0.75,-0.9,-0.7,-0.5,-0.7,-0.92,-0.7,-0.55,-0.75,-0.9,-0.8],
  [-0.8,-0.95,-0.7,-0.55,-0.8,-0.95,-0.75,-0.6,-0.85,-0.95,-0.7,-0.6,-0.85,-0.98,-0.75,-0.6,-0.85,-0.95,-0.7,-0.6,-0.85],
  [-1.0,-0.9,-0.7,-0.9,-1.02,-0.9,-0.75,-0.92,-1.04,-0.92,-0.78,-0.94,-1.05,-0.9,-0.75,-0.9,-1.03,-0.92,-0.8,-0.95,-1.05],
  [-0.6,-0.3,-0.6,-0.8,-0.5,-0.2,-0.55,-0.8,-0.5,-0.25,-0.6,-0.85,-0.55,-0.3,-0.6,-0.8,-0.5,-0.3,-0.6,-0.75,-0.5],
  [-1.1,-1.0,-1.15,-1.05,-0.9,-1.0,-1.1,-1.0,-0.85,-1.0,-1.12,-1.02,-0.9,-1.05,-1.15,-1.05,-0.9,-1.02,-1.12,-1.05,-1.15],
  [-0.85,-0.6,-0.3,-0.65,-0.85,-0.6,-0.35,-0.7,-0.9,-0.6,-0.3,-0.65,-0.9,-0.65,-0.35,-0.7,-0.9,-0.65,-0.4,-0.7,-0.9],
  [-0.4,-0.7,-0.9,-0.6,-0.3,-0.6,-0.85,-0.55,-0.25,-0.6,-0.9,-0.6,-0.3,-0.55,-0.85,-0.6,-0.35,-0.65,-0.9,-0.6,-0.45],
  [-0.95,-1.05,-0.85,-0.7,-0.9,-1.05,-0.9,-0.7,-0.95,-1.08,-0.9,-0.75,-0.95,-1.05,-0.85,-0.7,-0.92,-1.05,-0.9,-0.75,-1.0],
  [-0.9,-1.0,-1.1,-1.39,-1.0,-0.85,-0.95,-1.05,-0.9,-0.8,-0.95,-1.05,-0.95,-0.85,-1.0,-1.1,-0.95,-0.85,-1.0,-1.1,-1.2],
  [0.2,-0.3,0.5,1.0,0.3,-0.4,0.2,0.8,0.1,-0.5,0.3,1.1,0.4,-0.3,0.2,0.9,0.3,-0.4,0.1,0.7,0.2],
  [-0.5,0.2,0.8,0.2,-0.6,-0.2,0.6,1.2,0.4,-0.4,-0.7,0.0,0.7,0.2,-0.5,-0.1,0.8,1.3,0.5,-0.3,-0.6],
  [0.8,0.3,-0.4,-0.7,0.0,0.7,0.3,-0.5,-0.8,-0.2,0.5,0.9,0.2,-0.6,-0.3,0.4,1.0,0.4,-0.4,0.0,0.6],
  [-0.2,-0.7,-0.3,0.5,1.1,0.5,-0.3,-0.8,-0.4,0.4,0.9,0.3,-0.5,-0.9,-0.2,0.6,0.2,-0.6,-0.3,0.4,0.0],
  [1.3,0.6,-0.2,-0.6,-0.1,0.5,1.4,0.8,0.0,-0.5,0.2,1.0,0.4,-0.4,-0.7,0.1,0.9,1.5,0.7,-0.1,-0.5],
  [-0.7,-0.4,0.4,1.4,0.8,-0.2,-0.7,-0.3,0.6,1.3,0.6,-0.3,-0.8,-0.2,0.7,1.2,0.3,-0.5,-0.8,-0.1,0.8],
  [0.1,0.9,0.5,-0.3,-0.8,-0.4,0.3,0.0,-0.6,-0.2,0.7,0.2,-0.6,-0.2,0.6,0.1,-0.6,-0.3,0.5,1.2,0.6],
  [-0.8,-0.5,0.2,-0.2,-0.7,-0.3,0.5,0.1,-0.6,-0.8,-0.2,0.4,-0.1,-0.7,-0.4,0.3,-0.2,-0.8,-0.5,0.1,-0.3],
  [1.8,1.0,0.0,-0.5,0.4,1.6,2.2,1.2,0.0,-0.6,0.2,1.4,2.0,1.1,-0.2,-0.7,0.3,1.7,1.1,0.0,-0.4],
  [-0.6,0.5,2.0,2.8,1.5,0.0,-0.7,-0.2,1.0,2.4,1.6,0.2,-0.6,0.2,1.5,2.6,1.8,0.4,-0.5,0.3,1.2],
  [0.5,1.5,0.6,-0.4,-0.8,0.3,1.6,2.6,1.7,0.3,-0.6,-0.2,1.0,2.2,1.4,0.1,-0.7,0.0,1.3,2.1,1.5],
  [-0.3,-0.8,-0.2,1.0,2.1,1.3,0.2,1.2,2.3,1.4,0.0,-0.8,-0.3,0.9,2.0,2.8,1.7,0.3,-0.5,0.0,0.7],
  [1.0,2.0,1.1,0.0,0.6,1.8,2.4,1.5,0.3,-0.3,0.8,1.8,0.9,-0.2,0.5,1.6,2.3,1.6,0.4,-0.2,0.3],
  [2.75,1.5,0.2,-0.5,0.3,1.4,0.6,-0.3,0.5,1.8,2.6,1.9,0.6,-0.3,-0.6,0.2,1.5,2.5,3.0,2.0,1.0],
  [-0.9,-0.3,0.9,1.8,1.2,0.1,-0.6,0.3,1.6,1.0,-0.2,-0.8,0.2,1.8,3.0,2.2,0.8,-0.2,-0.6,0.3,1.6],
  [0.3,-0.5,-0.9,-0.1,1.3,2.2,1.5,0.4,-0.4,0.5,1.9,2.9,1.8,0.5,-0.3,0.6,1.9,1.2,0.2,0.9,2.0],
  [-0.85,-0.75,-0.9,-1.0,-0.8,-0.65,-0.8,-0.95,-0.85,-0.7,-0.8,-0.95,-0.9,-0.7,-0.6,-0.8,-0.95,-0.85,-0.7,-0.85,-0.95],
  [-0.65,-0.85,-1.0,-0.8,-0.6,-0.75,-0.95,-0.85,-0.6,-0.7,-0.9,-1.0,-0.8,-0.6,-0.8,-1.0,-0.85,-0.65,-0.8,-0.95,-0.9],
  [-1.0,-0.95,-0.8,-0.95,-1.08,-1.0,-0.85,-0.95,-1.05,-1.1,-0.95,-0.85,-1.0,-1.1,-1.0,-0.88,-0.98,-1.08,-1.0,-0.9,-1.0],
  [-0.5,-0.8,-0.6,-0.2,-0.5,-0.85,-0.7,-0.3,-0.2,-0.6,-0.9,-0.6,-0.2,-0.4,-0.8,-0.9,-0.5,-0.2,-0.5,-0.85,-0.6],
  [-0.9,-0.6,-0.4,-0.7,-0.95,-0.7,-0.4,-0.6,-0.9,-0.95,-0.65,-0.45,-0.75,-1.0,-0.8,-0.5,-0.6,-0.9,-0.95,-0.7,-0.5],
  [0.0,-0.5,-0.9,-0.6,0.0,0.3,-0.2,-0.7,-0.9,-0.4,0.2,0.0,-0.6,-0.9,-0.5,0.1,0.4,-0.2,-0.8,-0.7,-0.2],
  [-0.75,-0.9,-0.7,-0.4,-0.1,-0.5,-0.85,-0.6,-0.2,0.1,-0.4,-0.85,-0.7,-0.3,-0.6,-0.9,-0.5,-0.1,-0.4,-0.8,-0.7],
  [-1.1,-0.9,-1.0,-1.15,-1.0,-0.85,-1.0,-1.12,-1.0,-0.9,-1.05,-1.15,-1.05,-0.9,-1.0,-1.12,-1.05,-0.92,-1.02,-1.15,-1.1],
  [0.4,0.0,-0.5,-0.3,0.2,0.6,0.2,-0.4,-0.7,-0.3,0.3,0.6,0.1,-0.5,-0.2,0.4,0.7,0.3,-0.3,-0.6,-0.1],
  [-0.3,0.3,0.0,-0.6,-0.9,-0.5,0.2,0.5,0.0,-0.6,-0.8,-0.2,0.4,0.1,-0.5,-0.8,-0.4,0.3,0.6,0.1,-0.4],
  [-0.6,-0.9,-0.5,0.1,0.5,0.0,-0.6,-0.9,-0.6,0.0,0.4,0.0,-0.6,-0.9,-0.4,0.3,0.0,-0.6,-0.9,-0.5,0.2],
  [-0.95,-0.7,-0.5,-0.8,-1.0,-0.75,-0.45,-0.7,-1.0,-0.85,-0.5,-0.7,-1.0,-0.8,-0.55,-0.75,-1.0,-0.85,-0.6,-0.8,-1.0],
  [0.9,0.4,-0.2,-0.7,-0.5,0.1,0.8,0.4,-0.3,-0.8,-0.4,0.3,0.9,0.5,-0.2,-0.7,-0.3,0.4,0.9,0.3,-0.3],
  [-0.8,-0.4,0.3,0.8,0.3,-0.4,-0.8,-0.5,0.1,0.7,0.2,-0.5,-0.9,-0.4,0.3,0.8,0.3,-0.4,-0.8,-0.3,0.4],
  [-0.55,-0.7,-0.9,-0.75,-0.5,-0.6,-0.85,-0.8,-0.55,-0.65,-0.9,-0.8,-0.55,-0.6,-0.85,-0.85,-0.6,-0.6,-0.85,-0.8,-0.65],
  [-1.0,-1.1,-0.9,-0.75,-0.9,-1.05,-1.1,-0.9,-0.75,-0.95,-1.1,-1.0,-0.8,-0.9,-1.08,-1.1,-0.9,-0.8,-0.95,-1.1,-1.0],
  [0.3,-0.2,-0.7,-0.9,-0.4,0.3,0.9,0.5,-0.2,-0.7,-0.9,-0.4,0.3,0.7,0.2,-0.5,-0.9,-0.6,0.1,0.6,0.9],
  [-0.2,-0.6,-0.9,-0.5,0.1,0.6,1.1,0.6,0.0,-0.5,-0.2,0.4,1.0,0.6,0.0,-0.6,-0.9,-0.4,0.2,-0.2,-0.7],
  [-0.9,-0.8,-0.3,0.2,-0.2,-0.8,-0.9,-0.5,-0.1,-0.6,-0.9,-0.7,-0.2,0.3,-0.1,-0.7,-0.95,-0.6,-0.1,-0.5,-0.9],
  [1.5,0.9,0.2,-0.4,-0.7,-0.2,0.5,1.1,0.7,0.0,-0.6,-0.8,-0.3,0.5,1.2,0.8,0.1,-0.5,-0.7,0.0,0.8],
  [-0.4,-0.1,-0.5,-0.8,-0.6,-0.2,-0.5,-0.85,-0.7,-0.3,0.0,-0.4,-0.8,-0.7,-0.3,-0.5,-0.85,-0.75,-0.35,-0.1,-0.4],
  [-0.7,-1.0,-0.8,-0.55,-0.8,-1.0,-0.85,-0.6,-0.75,-1.0,-0.9,-0.6,-0.7,-0.95,-0.95,-0.65,-0.7,-0.95,-0.95,-0.7,-0.75],
  [0.6,1.2,0.6,-0.1,-0.6,-0.3,0.4,1.0,1.6,1.0,0.2,-0.5,-0.7,-0.1,0.7,1.3,0.8,0.0,-0.5,-0.2,0.5],
  [-0.8,-0.3,0.4,1.0,1.5,0.9,0.1,-0.5,-0.8,-0.3,0.4,1.1,1.7,1.1,0.2,-0.5,-0.8,-0.2,0.6,1.3,1.9],
  [-1.05,-0.85,-0.7,-0.85,-1.05,-0.95,-0.75,-0.85,-1.05,-1.0,-0.8,-0.85,-1.05,-1.0,-0.8,-0.82,-1.02,-1.05,-0.85,-0.85,-1.05]
];

const windSpikes = [
  [[0,4.95],[0.03,5.08],[0.07,4.4],[0.11,2.7],[0.15,1.0],[0.2,-0.3],[0.25,0.3],[0.3,1.2],[0.35,0.4],[0.4,-0.5],[0.45,0.2],[0.5,1.0],[0.55,0.2],[0.6,-0.6],[0.65,-0.2],[0.7,0.6],[0.75,1.3],[0.8,0.6],[0.85,-0.4],[0.9,0.2],[0.95,0.9],[1,0.3]],
  [[0,3.89],[0.04,3.0],[0.08,1.5],[0.12,0.2],[0.16,-0.6],[0.2,0.1],[0.25,1.4],[0.28,3.19],[0.32,2.2],[0.36,0.6],[0.4,-0.4],[0.45,-0.8],[0.5,-0.2],[0.55,0.8],[0.6,0.3],[0.65,-0.5],[0.7,-0.8],[0.75,0.0],[0.8,1.1],[0.85,0.6],[0.9,-0.3],[0.95,-0.7],[1,-0.2]],
  [[0,0.0],[0.03,1.6],[0.064,3.48],[0.09,2.2],[0.117,3.85],[0.148,3.74],[0.18,2.4],[0.22,0.8],[0.26,-0.2],[0.3,0.4],[0.35,1.6],[0.4,0.8],[0.45,-0.3],[0.5,-0.7],[0.55,0.1],[0.6,1.2],[0.65,0.6],[0.7,-0.4],[0.75,-0.8],[0.8,-0.2],[0.85,0.9],[0.9,1.6],[0.95,0.8],[1,0.1]],
  [[0,-0.7],[0.05,-0.2],[0.1,0.8],[0.15,2.0],[0.19,3.6],[0.22,4.45],[0.25,3.6],[0.29,1.8],[0.33,0.4],[0.38,-0.5],[0.43,0.2],[0.48,1.4],[0.53,0.6],[0.58,-0.4],[0.63,-0.8],[0.68,-0.2],[0.73,0.9],[0.78,0.4],[0.83,-0.5],[0.88,-0.8],[0.94,-0.2],[1,0.6]],
  [[0,-0.4],[0.05,0.4],[0.1,1.2],[0.15,0.4],[0.2,-0.5],[0.25,0.4],[0.3,2.2],[0.34,3.55],[0.38,2.6],[0.42,1.0],[0.47,-0.2],[0.52,-0.8],[0.57,-0.2],[0.62,1.0],[0.67,1.8],[0.72,0.8],[0.77,-0.3],[0.82,-0.8],[0.87,-0.1],[0.92,1.1],[0.96,1.9],[1,1.2]],
  [[0,-0.8],[0.05,-0.3],[0.1,0.5],[0.15,0.0],[0.2,-0.6],[0.25,0.2],[0.3,1.2],[0.35,0.6],[0.4,0.9],[0.45,2.8],[0.49,4.12],[0.53,3.4],[0.57,1.6],[0.61,0.2],[0.65,-0.6],[0.7,-0.2],[0.75,0.8],[0.8,1.8],[0.85,1.1],[0.9,0.0],[0.95,-0.6],[1,-0.2]],
  [[0,0.6],[0.05,1.4],[0.1,0.7],[0.15,-0.3],[0.2,-0.7],[0.25,0.0],[0.3,1.0],[0.35,1.9],[0.4,2.9],[0.44,3.3],[0.49,3.72],[0.53,3.0],[0.57,1.8],[0.62,0.6],[0.67,-0.2],[0.72,-0.7],[0.77,-0.1],[0.82,1.0],[0.87,1.6],[0.92,0.7],[0.96,-0.2],[1,-0.6]],
  [[0,-0.5],[0.05,-0.9],[0.1,-0.3],[0.15,0.7],[0.2,1.3],[0.25,0.5],[0.3,-0.4],[0.35,-0.8],[0.4,-0.2],[0.45,0.9],[0.5,2.0],[0.54,2.8],[0.57,3.02],[0.61,2.4],[0.65,1.2],[0.7,0.2],[0.75,-0.5],[0.8,0.0],[0.85,1.0],[0.9,1.5],[0.95,0.7],[1,0.0]],
  [[0,0.2],[0.05,-0.5],[0.1,-0.8],[0.15,-0.2],[0.2,0.9],[0.25,1.6],[0.3,0.8],[0.35,-0.3],[0.4,-0.8],[0.45,-0.3],[0.5,0.4],[0.55,1.3],[0.6,2.4],[0.64,3.6],[0.68,4.12],[0.72,3.7],[0.76,2.6],[0.8,1.4],[0.85,0.3],[0.9,-0.5],[0.95,0.1],[1,1.0]],
  [[0,1.2],[0.05,0.5],[0.1,-0.4],[0.15,-0.8],[0.2,-0.2],[0.25,0.8],[0.3,1.4],[0.35,0.6],[0.4,-0.4],[0.45,-0.9],[0.5,-0.4],[0.55,0.6],[0.6,1.6],[0.65,2.8],[0.7,3.6],[0.73,3.7],[0.76,3.3],[0.8,3.0],[0.85,2.0],[0.9,0.9],[0.95,0.0],[1,-0.5]],
  [[0,-0.6],[0.05,-0.9],[0.1,-0.4],[0.15,0.3],[0.2,-0.3],[0.25,-0.8],[0.3,-0.3],[0.35,0.5],[0.4,1.2],[0.45,0.6],[0.5,-0.3],[0.55,-0.8],[0.6,-0.4],[0.65,0.5],[0.7,1.6],[0.75,2.8],[0.8,3.8],[0.845,4.15],[0.88,4.1],[0.92,3.8],[0.96,3.2],[1,2.7]],
  [[0,-0.2],[0.05,0.6],[0.1,1.4],[0.15,0.7],[0.2,-0.3],[0.25,-0.8],[0.3,-0.4],[0.35,0.5],[0.4,1.1],[0.45,0.4],[0.5,-0.5],[0.55,-0.9],[0.6,-0.3],[0.65,0.7],[0.7,1.3],[0.75,0.6],[0.8,-0.2],[0.85,0.5],[0.9,1.6],[0.95,2.6],[1,3.41]],
  [[0,1.8],[0.05,1.0],[0.1,0.1],[0.15,-0.5],[0.2,0.0],[0.25,0.9],[0.3,0.3],[0.35,-0.5],[0.4,-0.9],[0.45,-0.3],[0.5,0.7],[0.55,1.5],[0.6,0.8],[0.65,-0.2],[0.7,0.4],[0.75,1.4],[0.8,2.4],[0.85,3.1],[0.88,3.34],[0.92,3.0],[0.96,3.1],[1,2.97]],
  [[0,2.7],[0.05,2.0],[0.1,1.0],[0.15,0.3],[0.2,-0.3],[0.25,0.3],[0.3,1.2],[0.35,2.2],[0.4,2.9],[0.45,2.2],[0.5,1.0],[0.55,0.0],[0.6,-0.6],[0.65,-0.2],[0.7,0.8],[0.75,1.6],[0.8,0.9],[0.85,0.0],[0.9,-0.5],[0.95,0.2],[1,1.0]]
];

const importsBand = [
  [1.9,1.2,0.5,1.1,1.8,1.0,0.3,0.9,1.6,1.1,0.2,0.8,1.5,0.9,0.1,0.7,1.4,0.8,0.2,0.9,1.5],
  [-1.5,-0.8,-0.1,-0.7,-1.4,-0.9,-0.2,0.4,-0.3,-1.0,-1.5,-0.8,0.0,-0.6,-1.3,-0.7,0.1,-0.5,-1.2,-0.6,-1.4],
  [0.5,-0.3,-1.0,-0.4,0.4,1.0,0.3,-0.5,-1.1,-0.3,0.5,1.1,0.4,-0.4,-1.0,-0.2,0.6,1.2,0.3,-0.5,0.2],
  [-0.8,0.1,0.9,0.2,-0.6,-1.2,-0.5,0.4,1.0,0.3,-0.6,-1.1,-0.3,0.6,1.2,0.4,-0.5,-1.0,-0.2,0.7,0.0],
  [1.2,1.7,1.0,0.2,0.8,1.5,0.9,0.1,0.7,1.6,1.1,0.3,0.9,1.7,1.2,0.4,1.0,1.8,1.1,0.5,1.1],
  [-1.8,-1.3,-1.7,-1.1,-0.6,-1.2,-1.8,-1.3,-0.7,-1.3,-1.9,-1.4,-0.8,-1.2,-1.8,-1.5,-0.9,-1.4,-1.9,-1.3,-1.6],
  [0.0,0.7,0.2,-0.5,0.1,0.8,0.3,-0.4,-0.9,-0.2,0.6,0.1,-0.6,0.0,0.7,0.2,-0.5,0.1,0.9,0.3,-0.4],
  [-0.4,-1.1,-1.6,-0.9,-0.2,-0.8,-1.4,-0.7,0.0,-0.6,-1.3,-1.7,-1.0,-0.3,-0.9,-1.5,-0.8,-0.1,-0.7,-1.3,-0.9],
  [1.5,0.8,1.3,1.8,1.1,0.4,1.0,1.6,0.9,0.3,1.0,1.7,1.2,0.5,1.2,1.9,1.3,0.6,1.3,1.9,1.0],
  [-1.0,-0.4,0.3,0.9,0.2,-0.5,0.1,0.8,0.2,-0.6,-1.1,-0.4,0.4,-0.2,-0.9,-0.3,0.5,-0.1,-0.8,-0.2,0.5],
  [0.8,0.2,-0.4,0.3,1.0,0.5,-0.2,-0.8,-0.1,0.7,1.2,0.5,-0.3,0.4,1.1,0.6,-0.2,-0.8,-0.1,0.6,1.1],
  [-2.4,-1.6,-0.8,-1.3,-1.9,-1.1,-0.4,-1.0,-1.6,-0.9,-0.2,-0.8,-1.5,-1.9,-1.2,-0.6,-1.3,-1.9,-1.4,-0.8,-1.5],
  [0.3,1.1,1.7,1.0,0.4,1.0,1.6,0.9,0.2,0.8,1.5,2.1,1.4,0.7,1.3,1.9,1.2,0.6,1.2,1.8,1.3],
  [-0.2,-0.9,-0.3,0.5,-0.2,-0.9,-1.4,-0.7,0.1,-0.5,-1.1,-0.4,0.3,-0.4,-1.0,-1.6,-0.9,-0.2,-0.9,-1.4,-0.6],
  [1.0,0.4,-0.3,-0.9,-0.2,0.6,1.2,0.6,-0.1,0.5,1.1,0.4,-0.3,-0.9,-0.2,0.5,1.1,0.4,-0.3,0.3,0.9],
  [-1.3,-1.8,-1.2,-0.5,-1.1,-1.7,-1.1,-0.4,0.2,-0.4,-1.0,-1.6,-1.1,-0.5,0.1,-0.5,-1.2,-1.7,-1.0,-0.4,-1.1],
  [0.6,1.3,0.7,0.0,-0.6,0.1,0.7,1.3,0.6,-0.1,0.5,1.0,0.3,-0.4,0.3,1.0,1.6,0.9,0.2,0.8,0.2],
  [-0.6,0.0,-0.7,-1.3,-0.6,0.1,0.6,-0.1,-0.8,-1.4,-0.7,0.0,0.6,-0.1,-0.7,-1.2,-0.4,0.3,-0.3,-1.0,-1.7],
  [1.6,1.0,0.4,0.9,1.5,2.0,1.3,0.7,1.3,1.9,1.2,0.5,1.1,1.8,2.3,1.5,0.8,1.5,2.1,1.4,0.7],
  [-1.6,-1.0,-1.5,-2.0,-1.4,-0.8,-1.3,-1.9,-1.3,-0.7,-1.2,-1.8,-1.3,-0.8,-1.4,-1.9,-1.3,-0.7,-1.2,-1.9,-2.6],
  [0.2,-0.5,0.2,0.9,0.3,-0.3,-0.9,-0.3,0.4,1.0,0.4,-0.2,-0.8,-0.2,0.5,1.1,0.5,-0.2,0.4,1.0,0.4],
  [-0.9,-1.5,-0.9,-0.3,0.3,-0.3,-0.9,-1.5,-0.8,-0.2,0.4,-0.2,-0.9,-1.4,-0.7,-0.1,0.5,-0.1,-0.8,-1.4,-0.8],
  [1.3,0.6,0.0,0.6,1.3,0.7,0.1,-0.5,0.2,0.9,1.5,0.9,0.2,0.8,1.4,0.8,0.2,0.9,1.6,2.2,1.6],
  [-0.3,0.4,1.1,1.6,0.9,0.2,-0.4,0.3,1.0,0.4,-0.3,-0.9,-0.2,0.5,1.2,0.6,-0.1,-0.7,0.0,0.7,0.2],
  [-1.9,-1.3,-0.7,-1.3,-1.8,-1.2,-0.6,0.0,-0.6,-1.2,-1.8,-1.2,-0.6,-1.2,-1.7,-1.1,-0.5,-1.1,-1.7,-1.1,-0.5],
  [0.9,1.5,2.0,1.4,0.7,0.1,0.7,1.4,2.0,1.3,0.6,1.2,1.8,2.4,1.7,1.0,0.4,1.0,1.6,1.0,0.3],
  [-0.5,-1.2,-1.8,-1.2,-0.5,0.2,-0.4,-1.0,-1.6,-1.0,-0.3,-0.9,-1.5,-2.1,-1.4,-0.8,-0.2,-0.8,-1.4,-0.9,-0.3],
  [0.4,-0.2,0.5,1.2,0.6,0.0,0.6,1.2,0.5,-0.1,0.5,1.2,1.8,1.1,0.4,1.0,1.7,1.1,0.4,-0.2,0.5],
  [-1.2,-0.6,0.0,-0.7,-1.3,-1.9,-1.2,-0.6,-1.2,-1.8,-1.1,-0.5,0.1,-0.5,-1.1,-0.5,0.1,-0.6,-1.2,-1.8,-1.1],
  [1.1,1.6,1.0,0.3,-0.3,0.3,1.0,0.4,-0.3,0.4,1.0,0.3,-0.3,0.4,1.0,1.6,0.9,0.3,-0.3,0.4,1.0],
  [-0.1,-0.7,-1.3,-0.6,0.0,-0.6,-1.2,-1.8,-1.1,-0.5,0.1,-0.5,-1.1,-0.4,0.2,-0.4,-1.1,-1.6,-1.0,-0.4,0.2],
  [0.7,0.1,0.7,0.1,-0.6,-1.2,-0.5,0.1,0.8,0.2,-0.4,0.3,0.9,0.3,-0.4,-1.0,-0.3,0.4,1.0,0.4,-0.3],
  [-1.4,-0.8,-1.3,-0.7,-0.1,0.5,-0.1,-0.7,-1.3,-0.6,0.0,0.6,0.0,-0.6,-1.2,-0.6,0.0,-0.6,-1.2,-1.7,-1.1],
  [1.7,1.1,1.7,1.2,0.5,1.1,1.7,1.2,0.6,1.3,1.8,1.2,0.5,1.1,1.7,1.3,0.7,1.4,2.0,1.5,0.8],
  [-0.7,-0.2,-0.8,-1.4,-2.0,-1.4,-0.8,-0.2,-0.9,-1.5,-2.0,-1.4,-0.7,-0.1,-0.7,-1.3,-1.9,-1.3,-0.7,-1.3,-1.9],
  [0.1,0.8,1.4,0.8,0.1,-0.6,0.0,0.6,1.2,0.6,0.0,-0.6,0.0,0.7,1.3,0.7,0.0,-0.6,0.1,0.8,1.3],
  [0.0,-0.6,-1.1,-0.5,0.2,0.7,0.1,-0.5,0.0,0.7,1.2,0.6,0.0,-0.6,-0.1,0.6,1.1,0.5,-0.1,-0.7,-0.2],
  [-1.1,-0.5,0.1,0.7,0.2,-0.3,-0.9,-1.5,-0.9,-0.3,0.3,0.9,0.3,-0.3,-0.9,-0.3,0.3,0.9,0.3,-0.3,-0.9],
  [1.4,1.9,1.4,0.8,0.2,0.8,1.4,1.9,1.3,0.7,0.1,0.7,1.3,0.7,0.1,0.6,1.2,1.7,1.2,0.6,0.0],
  [-0.3,-0.9,-0.4,0.2,0.8,0.2,-0.5,-1.1,-0.5,0.1,0.7,1.3,0.6,0.0,-0.6,-1.2,-0.6,0.0,0.6,0.0,-0.6],
  [-1.7,-1.1,-0.5,0.1,-0.5,-1.1,-1.6,-1.0,-0.4,-1.0,-1.6,-1.0,-0.4,0.2,-0.4,-1.0,-1.6,-1.0,-0.4,-1.0,-1.6],
  [0.6,0.0,-0.6,0.0,0.6,1.2,0.6,0.0,0.6,1.2,0.6,0.0,-0.6,0.0,0.6,0.0,-0.6,-1.2,-0.6,0.0,0.6],
  [-0.8,-1.4,-1.9,-1.3,-0.7,-0.1,-0.7,-1.3,-0.7,-0.1,0.5,-0.1,-0.7,-1.3,-0.7,-0.1,0.5,-0.1,-0.7,-1.3,-1.9],
  [1.0,0.5,1.0,1.5,0.9,0.3,-0.3,0.3,0.9,1.5,1.0,0.4,-0.2,0.4,1.0,1.5,0.9,0.3,0.9,1.5,1.9],
  [0.3,0.9,0.4,-0.2,-0.8,-0.3,0.3,0.9,0.3,-0.3,-0.9,-1.4,-0.8,-0.2,0.4,-0.2,-0.8,-1.3,-0.7,-0.1,0.5],
  [-1.3,-0.8,-1.4,-1.9,-1.4,-0.8,-0.2,-0.8,-1.4,-1.9,-1.3,-0.7,-1.2,-1.8,-1.3,-0.7,-0.1,-0.7,-1.3,-0.8,-0.2],
  [0.9,0.3,-0.2,0.4,1.0,0.4,-0.2,-0.8,-0.2,0.4,-0.2,-0.7,-0.1,0.5,1.1,0.5,-0.1,0.5,1.1,0.5,-0.1],
  [-0.5,0.1,0.6,0.1,-0.5,-1.1,-0.5,0.1,0.7,1.2,0.6,0.0,0.6,1.2,0.6,0.0,-0.6,0.0,0.6,1.2,0.6],
  [1.8,1.3,0.7,0.2,0.8,1.4,1.9,1.3,0.7,1.3,1.9,1.4,0.8,0.2,0.8,1.4,1.9,1.3,0.7,1.2,1.8],
  [-0.1,0.4,-0.2,-0.8,-1.4,-0.8,-0.2,0.4,-0.2,-0.8,-0.2,0.4,1.0,0.4,-0.2,-0.8,-0.3,0.3,-0.3,-0.9,-1.5],
  [-2.0,-1.5,-0.9,-1.4,-2.0,-1.5,-0.9,-0.4,-1.0,-1.6,-2.1,-1.5,-0.9,-0.4,-1.0,-1.6,-2.2,-1.6,-1.0,-1.5,-2.0],
  [0.2,0.8,1.3,0.8,0.2,-0.4,0.2,0.8,0.3,-0.3,0.3,0.9,1.5,0.9,0.3,-0.3,0.3,0.9,1.4,0.8,0.2],
  [-0.9,-0.3,-0.9,-1.5,-1.0,-0.4,0.2,-0.4,-1.0,-0.4,0.2,0.8,0.2,-0.4,-1.0,-0.5,0.1,-0.5,-1.1,-0.5,0.1],
  [0.5,1.1,1.6,1.1,0.5,0.0,0.6,1.2,0.6,0.0,-0.5,0.1,0.7,0.1,-0.5,0.1,0.7,1.3,0.7,0.1,-0.4],
  [-1.5,-1.0,-0.4,-1.0,-1.5,-2.0,-1.4,-0.8,-0.3,-0.9,-1.4,-0.9,-0.3,-0.9,-1.4,-1.9,-1.3,-0.8,-1.3,-1.8,-1.3],
  [1.2,0.6,0.1,-0.5,0.1,0.7,1.2,0.7,0.1,0.7,1.2,0.7,0.1,-0.5,0.1,0.7,1.3,1.9,1.3,0.7,0.2],
  [-0.6,-1.2,-0.7,-0.1,0.5,-0.1,-0.6,-1.2,-1.7,-1.1,-0.5,0.1,-0.5,-1.1,-0.5,0.1,0.7,0.1,-0.5,-1.1,-0.5],
  [0.8,0.2,0.8,1.3,0.8,0.2,0.8,1.4,2.0,1.4,0.8,0.2,0.8,1.4,0.8,1.4,2.0,1.4,0.8,0.2,-0.4],
  [-0.2,-0.8,-1.3,-1.8,-1.3,-0.7,-0.1,0.5,-0.1,-0.7,-1.2,-0.6,0.0,-0.6,-1.2,-1.8,-1.2,-0.6,0.0,-0.6,-1.2],
  [1.6,1.1,1.6,2.1,1.5,0.9,1.5,2.0,1.4,0.8,1.4,1.9,1.3,1.8,2.4,1.8,1.2,1.7,2.3,1.7,1.1],
  [-1.2,-1.7,-2.1,-1.6,-1.0,-1.6,-2.0,-1.5,-0.9,-1.4,-1.9,-2.2,-1.7,-1.1,-1.6,-2.0,-1.5,-0.9,-1.4,-1.9,-2.3]
];

const importsSpikes = [
  [[0,0.8],[0.05,0.2],[0.1,0.8],[0.15,1.4],[0.2,0.7],[0.25,0.1],[0.3,0.7],[0.35,1.3],[0.4,0.7],[0.45,0.0],[0.5,0.6],[0.55,1.3],[0.6,1.9],[0.65,1.3],[0.7,0.6],[0.75,1.2],[0.8,1.9],[0.85,2.5],[0.9,2.9],[0.93,3.0],[0.97,2.8],[1,2.3]],
  [[0,1.4],[0.05,0.7],[0.1,0.1],[0.15,0.7],[0.2,1.3],[0.25,0.6],[0.3,0.0],[0.35,0.6],[0.4,1.2],[0.45,0.6],[0.5,1.1],[0.55,1.7],[0.6,1.1],[0.65,0.5],[0.7,1.1],[0.75,1.8],[0.8,1.4],[0.86,2.7],[0.89,2.4],[0.93,1.6],[0.97,0.9],[1,1.3]],
  [[0,-0.5],[0.05,0.2],[0.1,0.8],[0.15,0.2],[0.2,-0.5],[0.25,0.1],[0.3,0.7],[0.35,1.3],[0.4,0.7],[0.45,0.2],[0.5,0.9],[0.55,1.8],[0.59,2.6],[0.63,2.0],[0.67,1.2],[0.72,0.5],[0.77,1.1],[0.82,1.7],[0.87,1.0],[0.92,0.3],[0.96,0.9],[1,1.5]],
  [[0,0.3],[0.05,1.0],[0.1,1.6],[0.15,1.0],[0.2,0.4],[0.25,1.0],[0.3,1.6],[0.35,2.1],[0.4,1.4],[0.45,0.8],[0.5,1.6],[0.53,2.3],[0.57,1.7],[0.62,2.3],[0.66,1.5],[0.7,0.8],[0.75,1.5],[0.8,2.2],[0.85,1.5],[0.9,0.8],[0.95,1.6],[1,2.0]],
  [[0,-1.0],[0.05,-1.6],[0.1,-1.1],[0.15,-0.5],[0.2,-1.1],[0.25,-1.7],[0.3,-1.2],[0.35,-0.6],[0.4,-1.2],[0.45,-1.8],[0.5,-1.3],[0.55,-1.6],[0.6,-2.2],[0.62,-2.3],[0.66,-1.9],[0.7,-1.2],[0.75,-0.6],[0.8,-1.2],[0.85,-1.8],[0.9,-2.1],[0.94,-2.35],[0.97,-2.1],[1,-1.6]],
  [[0,-1.7],[0.05,-1.1],[0.1,-1.6],[0.15,-2.0],[0.2,-2.1],[0.25,-1.5],[0.3,-0.8],[0.35,-1.4],[0.4,-1.9],[0.45,-1.3],[0.5,-0.7],[0.55,-1.3],[0.6,-1.9],[0.65,-1.4],[0.7,-0.8],[0.75,-1.4],[0.8,-2.0],[0.85,-1.5],[0.9,-0.9],[0.95,-1.5],[1,-2.1]]
];

// ---------- layout & styling ----------
const FONT = '"Liberation Sans", Arial, Helvetica, sans-serif';
const PANEL_W = 561, PANEL_H = 322, STRIP_H = 39;
const panelBoxes = [
  { left: 42,  top: 46 },
  { left: 650, top: 46 },
  { left: 42,  top: 420 },
  { left: 650, top: 420 }
];
const BG_LINE = '#d4d4d4';
const BG_WIDTH = 1.2;
const FOCUS_LIGHT = '#8e8e8e';
const FOCUS_DARK = '#2f2f2f';

const panels = [
  { title: panelTitles[0], band: priceBand,   spikes: priceSpikes,   focus: priceFocus,   ticks: priceTicks,   minor: priceMinor,   lim: priceLimits },
  { title: panelTitles[1], band: demandBand,  spikes: demandSpikes,  focus: demandFocus,  ticks: demandTicks,  minor: demandMinor,  lim: demandLimits },
  { title: panelTitles[2], band: windBand,    spikes: windSpikes,    focus: windFocus,    ticks: windTicks,    minor: windMinor,    lim: windLimits },
  { title: panelTitles[3], band: importsBand, spikes: importsSpikes, focus: importsFocus, ticks: importsTicks, minor: importsMinor, lim: importsLimits }
];

function onGrid(values) {
  return values.map((v, i) => [T_GRID[i], v]);
}
function slice(points, lo, hi) {
  return points.filter(p => p[0] >= lo - 1e-9 && p[0] <= hi + 1e-9);
}
function fmtY(v) {
  return (v < 0 ? '\u2212' : '') + String(Math.abs(v));
}

// background grid lines drawn through the axes' own scales
function gridLines(idx, xs, ys, lim, width, color, z) {
  const data = xs.map(v => [v, 0]).concat(ys.map(v => [v, 1]));
  return {
    type: 'custom', xAxisIndex: idx, yAxisIndex: idx, silent: true, z: z,
    data: data,
    renderItem: function (params, api) {
      const cs = params.coordSys;
      const v = api.value(0);
      if (api.value(1) === 1) {
        const y = api.coord([0.5, v])[1];
        return { type: 'line', shape: { x1: cs.x, y1: y, x2: cs.x + cs.width, y2: y },
                 style: { stroke: color, lineWidth: width } };
      }
      const x = api.coord([v, lim[0]])[0];
      return { type: 'line', shape: { x1: x, y1: cs.y, x2: x, y2: cs.y + cs.height },
               style: { stroke: color, lineWidth: width } };
    }
  };
}

const grids = [], xAxes = [], yAxes = [], series = [], graphics = [];

panels.forEach((p, i) => {
  const box = panelBoxes[i];
  const bottomRow = i >= 2;
  grids.push({
    left: box.left, top: box.top, width: PANEL_W, height: PANEL_H,
    show: true, backgroundColor: '#ffffff', borderColor: '#262626', borderWidth: 1.8,
    containLabel: false
  });
  xAxes.push({
    type: 'value', gridIndex: i, min: xLimits[0], max: xLimits[1],
    axisLine: { show: false },
    splitLine: { show: false },
    axisTick: { show: bottomRow, length: 5, lineStyle: { color: '#333333', width: 1.1 }, customValues: xTicks },
    axisLabel: { show: bottomRow, margin: 11, color: '#4d4d4d', fontSize: 19, fontFamily: FONT,
                 customValues: xTicks, formatter: v => v.toFixed(2) }
  });
  yAxes.push({
    type: 'value', gridIndex: i, min: p.lim[0], max: p.lim[1],
    axisLine: { show: false },
    splitLine: { show: false },
    axisTick: { show: true, length: 5, lineStyle: { color: '#333333', width: 1.1 }, customValues: p.ticks },
    axisLabel: { show: true, margin: 11, color: '#4d4d4d', fontSize: 19, fontFamily: FONT,
                 customValues: p.ticks, formatter: fmtY }
  });

  series.push(gridLines(i, xMinorTicks, p.minor, p.lim, 1, '#f0f0f0', 1));
  series.push(gridLines(i, xTicks, p.ticks, p.lim, 2, '#ebebeb', 1));

  const curves = p.band.map(onGrid).concat(p.spikes);
  curves.forEach(c => {
    series.push({
      type: 'line', xAxisIndex: i, yAxisIndex: i, data: c, smooth: 0.5,
      showSymbol: false, symbol: 'none', silent: true, z: 2,
      lineStyle: { color: BG_LINE, width: BG_WIDTH }
    });
  });

  const pieces = [
    [slice(p.focus, 0, focusWindow[0]), FOCUS_LIGHT],
    [slice(p.focus, focusWindow[1], 1), FOCUS_LIGHT],
    [slice(p.focus, focusWindow[0], focusWindow[1]), FOCUS_DARK]
  ];
  pieces.forEach(([pts, col]) => {
    series.push({
      type: 'line', xAxisIndex: i, yAxisIndex: i, data: pts, smooth: 0.5,
      showSymbol: false, symbol: 'none', silent: true, z: 3,
      lineStyle: { color: col, width: 3.8, cap: 'butt' }
    });
  });

  graphics.push({
    type: 'rect', silent: true,
    shape: { x: box.left, y: box.top - STRIP_H, width: PANEL_W, height: STRIP_H },
    style: { fill: '#e5e5e5' }
  });
  graphics.push({
    type: 'text', silent: true,
    x: box.left + PANEL_W / 2, y: box.top - STRIP_H / 2,
    style: { text: p.title, fill: '#1a1a1a', fontSize: 19, fontWeight: 'bold', fontFamily: FONT,
             align: 'center', verticalAlign: 'middle', textAlign: 'center', textVerticalAlign: 'middle' }
  });
});

graphics.push({
  type: 'text', silent: true,
  x: (panelBoxes[0].left + panelBoxes[1].left + PANEL_W) / 2, y: 788,
  style: { text: axisTitle, fill: '#000000', fontSize: 23.5, fontFamily: FONT,
           align: 'center', verticalAlign: 'middle', textAlign: 'center', textVerticalAlign: 'middle' }
});

const chart = echarts.init(document.getElementById('chart'), null, { renderer: 'canvas' });
chart.setOption({
  animation: false,
  backgroundColor: '#ffffff',
  grid: grids,
  xAxis: xAxes,
  yAxis: yAxes,
  series: series,
  graphic: graphics
});
</script>
</body>
</html>
